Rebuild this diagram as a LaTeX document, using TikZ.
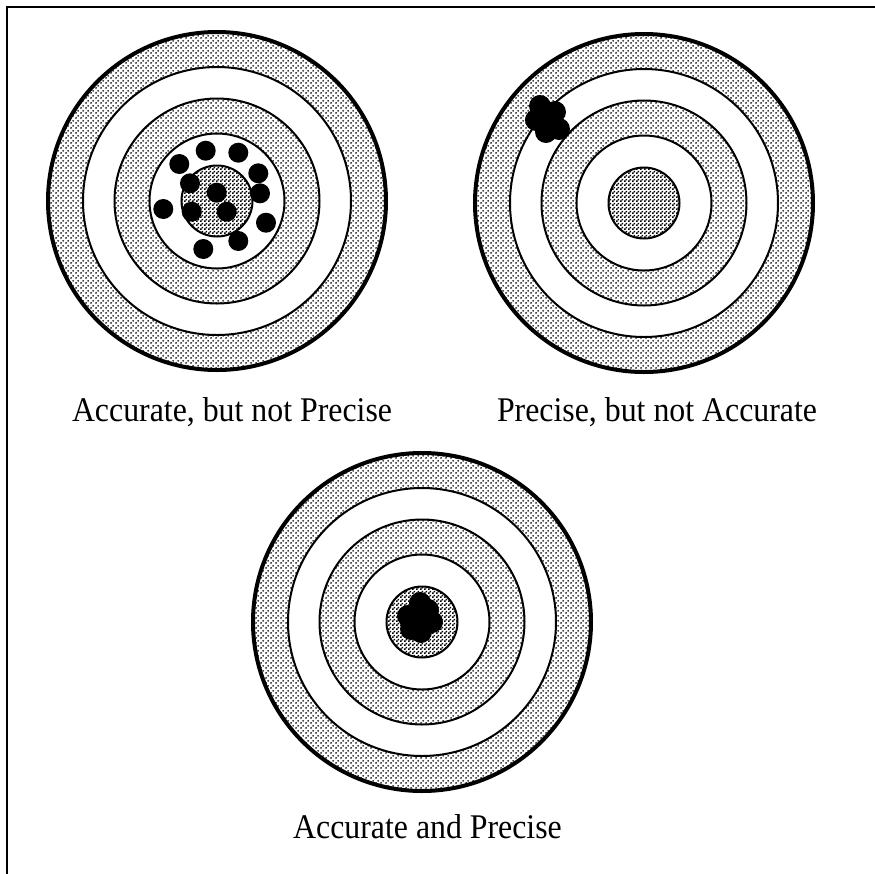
\documentclass[tikz,border=0pt]{standalone}
\usepackage{fontspec}
\newfontfamily\labfont[FakeStretch=0.92]{Liberation Serif}
\usetikzlibrary{patterns.meta}
\tikzdeclarepattern{
  name=stipple,
  type=uncolored,
  bounding box={(0pt,0pt) and (2.5pt,2.5pt)},
  tile size={(2.5pt,2.5pt)},
  code={
    \pgfpathcircle{\pgfpoint{0.625pt}{0.625pt}}{0.56pt}
    \pgfpathcircle{\pgfpoint{1.875pt}{1.875pt}}{0.56pt}
    \pgfusepath{fill}
  }
}
\tikzdeclarepattern{
  name=densestipple,
  type=uncolored,
  bounding box={(0pt,0pt) and (2pt,2pt)},
  tile size={(2pt,2pt)},
  code={
    \pgfpathrectangle{\pgfpoint{0pt}{0pt}}{\pgfpoint{1pt}{1pt}}
    \pgfpathrectangle{\pgfpoint{1pt}{1pt}}{\pgfpoint{1pt}{1pt}}
    \pgfusepath{fill}
  }
}
\tikzset{
  ringgray/.style={pattern=stipple, pattern color=black},
  centregray/.style={pattern=densestipple, pattern color=black},
  thinedge/.style={draw=black, line width=1pt},
  thickedge/.style={draw=black, line width=2pt},
  shot/.style={fill=black},
  caption/.style={anchor=base, inner sep=0pt, font=\labfont\fontsize{17.3pt}{20pt}\selectfont},
  frameline/.style={draw=black, line width=1pt},
  bullseye/.pic={
    \fill[white] (0,0) circle (169);
    \fill[ringgray] (0,0) circle (169);
    \path[thinedge, fill=white] (0,0) circle (134);
    \path[thinedge, ringgray] (0,0) circle (102.5);
    \path[thinedge, fill=white] (0,0) circle (67.5);
    \fill[white] (0,0) circle (35.5);
    \path[thinedge, centregray] (0,0) circle (35.5);
    \path[thickedge] (0,0) circle (169);
  }
}
\begin{document}
\begin{tikzpicture}[x=0.5pt, y=-0.5pt]
  \fill[white] (0,0) rectangle (875,874);
  \useasboundingbox (0,0) rectangle (875,874);

  % frame (top and left sides only)
  \coordinate (fbl) at (7,874);
  \coordinate (ftl) at (7,7);
  \coordinate (ftr) at (875,7);
  \draw[frameline] (fbl) -- (ftl) -- (ftr);

  % targets
  \pic (t1) at (217,201) {bullseye};
  \pic (t2) at (644,203) {bullseye};
  \pic (t3) at (422,622) {bullseye};

  % shots: accurate but not precise
  \foreach \x/\y in {205.7/150.7, 238.3/152.7, 179.3/164, 258.3/173.3,
                     190/183.3, 216.7/192.7, 260/193.3, 163.3/209,
                     191.7/211.7, 226.7/211.7, 266/222.7, 238.3/241, 203.3/249}
    \fill[shot] (\x,\y) circle (10);

  % shots: precise but not accurate
  \foreach \x/\y in {540/106, 555/112, 536/120, 559/129, 546/132, 548/120}
    \fill[shot] (\x,\y) circle (11);

  % shots: accurate and precise
  \foreach \x/\y in {420/603, 408/616, 432/622, 411/629, 421/632, 420/617, 428/610}
    \fill[shot] (\x,\y) circle (11);

  % captions
  \node[caption] (c1) at (232,421) {Accurate, but not Precise};
  \node[caption] (c2) at (657,421) {Precise, but not Accurate};
  \node[caption] (c3) at (427.5,838) {Accurate and Precise};
\end{tikzpicture}
\end{document}
